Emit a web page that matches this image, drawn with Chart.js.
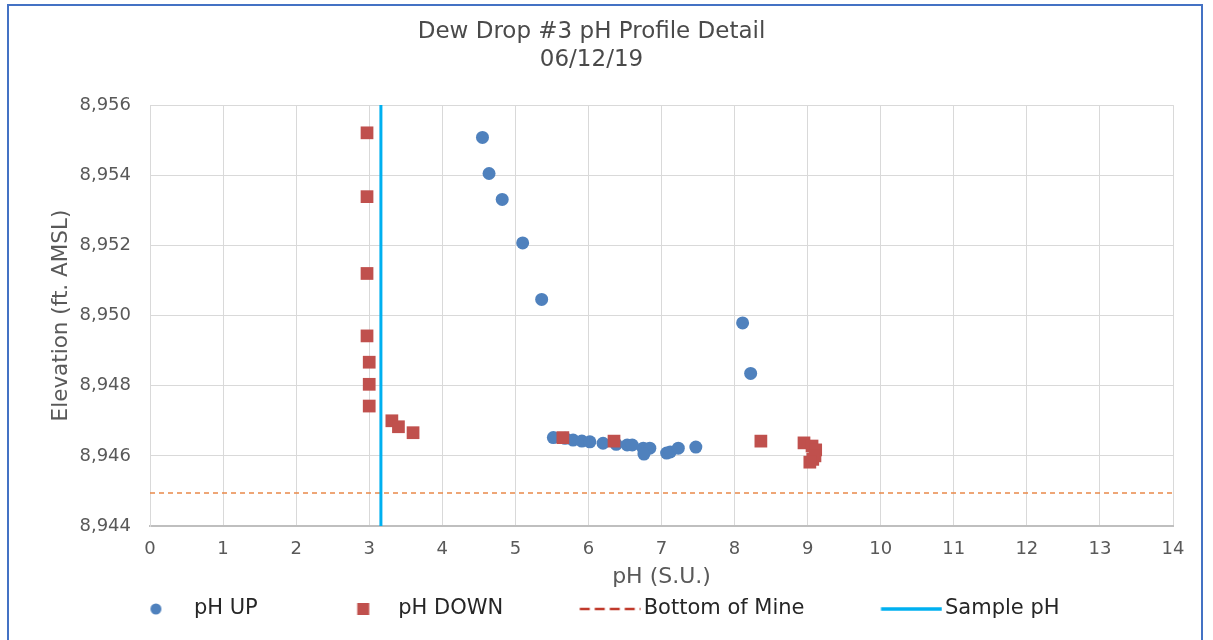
<!DOCTYPE html>
<html>
<head>
<meta charset="utf-8">
<script src="https://cdn.jsdelivr.net/npm/chart.js@4.4.1/dist/chart.umd.min.js"></script>
<style>
  html, body { margin: 0; padding: 0; background: #fff; }
</style>
</head>
<body>
<canvas id="phChart" width="1213" height="640"></canvas>
<script>
// pH UP profile (circles)
const upPh = [4.55, 4.64, 4.82, 5.10, 5.36, 8.11, 8.22,
  5.52, 5.68, 5.79, 5.91, 6.02, 6.20, 6.38, 6.53, 6.60, 6.75, 6.84, 6.76, 7.07, 7.12, 7.23, 7.47];
const upElev = [8955.08, 8954.05, 8953.31, 8952.07, 8950.46, 8949.79, 8948.35,
  8946.52, 8946.50, 8946.45, 8946.42, 8946.40, 8946.36, 8946.33, 8946.31, 8946.31, 8946.22, 8946.22, 8946.05, 8946.08, 8946.11, 8946.22, 8946.25];

// pH DOWN profile (squares)
const downPh = [2.97, 2.97, 2.97, 2.97, 3.00, 3.00, 3.00, 3.31, 3.40, 3.60,
  5.65, 6.35, 8.36, 8.95, 9.06, 9.11, 9.10, 9.07, 9.03];
const downElev = [8955.21, 8953.39, 8951.20, 8949.42, 8948.67, 8948.04, 8947.42, 8947.00, 8946.83, 8946.66,
  8946.52, 8946.42, 8946.42, 8946.37, 8946.28, 8946.17, 8946.00, 8945.90, 8945.82];

// reference lines
const mineX = [0, 14];
const mineElev = [8944.94, 8944.94];
const sampleX = [3.16, 3.16];
const sampleElev = [8944, 8956];

const seriesNames = ['pH UP', 'pH DOWN', 'Bottom of Mine', 'Sample pH'];
const titleLines = ['Dew Drop #3 pH Profile Detail', '06/12/19'];

const toPoints = (xs, ys) => xs.map((x, i) => ({ x: x, y: ys[i] }));

const blue = '#4F81BD';
const red = '#C0504D';
const cyan = '#00B0F0';
const orange = '#E9894A';

Chart.defaults.font.family = 'DejaVu Sans';
Chart.defaults.color = '#595959';

// legend markers drawn on small canvases
function legendIcon(draw) {
  const c = document.createElement('canvas');
  c.width = 136;
  c.height = 24;
  const g = c.getContext('2d');
  draw(g);
  return c;
}
const icons = [
  legendIcon(g => { g.fillStyle = blue; g.beginPath(); g.arc(100.5, 12, 5.5, 0, Math.PI * 2); g.fill(); }),
  legendIcon(g => { g.fillStyle = red; g.fillRect(97.5, 6, 12, 12); }),
  legendIcon(g => { g.strokeStyle = '#C0392B'; g.lineWidth = 2.5; g.setLineDash([10, 5]);
    g.beginPath(); g.moveTo(74.5, 12); g.lineTo(135.5, 12); g.stroke(); }),
  legendIcon(g => { g.strokeStyle = cyan; g.lineWidth = 3.5;
    g.beginPath(); g.moveTo(74.5, 12); g.lineTo(135.5, 12); g.stroke(); })
];

const framePlugin = {
  id: 'frame',
  beforeDraw(chart) {
    const ctx = chart.ctx;
    ctx.save();
    ctx.fillStyle = '#fff';
    ctx.fillRect(0, 0, chart.width, chart.height);
    ctx.strokeStyle = '#4472C4';
    ctx.lineWidth = 2;
    ctx.strokeRect(8, 5, 1194, 650);
    ctx.restore();
  }
};

const ctx = document.getElementById('phChart');
const phChart = new Chart(ctx, {
  type: 'scatter',
  data: {
    datasets: [
      {
        label: seriesNames[0],
        data: toPoints(upPh, upElev),
        pointStyle: 'circle',
        pointRadius: 6.5,
        backgroundColor: blue,
        borderColor: blue,
        borderWidth: 0,
        order: 3
      },
      {
        label: seriesNames[1],
        data: toPoints(downPh, downElev),
        pointStyle: 'rect',
        pointRadius: 9,
        backgroundColor: red,
        borderColor: red,
        borderWidth: 0,
        order: 2
      },
      {
        label: seriesNames[2],
        data: toPoints(mineX, mineElev),
        showLine: true,
        pointRadius: 0,
        borderColor: orange,
        borderWidth: 1.5,
        borderDash: [5, 4],
        order: 1
      },
      {
        label: seriesNames[3],
        data: toPoints(sampleX, sampleElev),
        showLine: true,
        pointRadius: 0,
        borderColor: cyan,
        borderWidth: 3,
        order: 0
      }
    ]
  },
  options: {
    responsive: false,
    animation: false,
    devicePixelRatio: 1,
    layout: { padding: { top: 5, left: 10, right: 40, bottom: 10.5 } },
    plugins: {
      tooltip: { enabled: false },
      title: {
        display: true,
        text: titleLines,
        color: '#4a4a4a',
        font: { size: 23, weight: 'normal', lineHeight: 1.22 },
        padding: { top: 13, bottom: 31 }
      },
      legend: {
        position: 'bottom',
        labels: {
          usePointStyle: true,
          pointStyleWidth: 120,
          padding: 10,
          color: '#262626',
          font: { size: 21 },
          generateLabels: () => seriesNames.map((name, i) => ({
            // trailing spaces on the last entry keep the row centred like the original
            text: i === 3 ? name + '         ' : name,
            pointStyle: icons[i],
            fillStyle: 'rgba(0,0,0,0)',
            strokeStyle: 'rgba(0,0,0,0)',
            lineWidth: 0,
            hidden: false,
            datasetIndex: i,
            fontColor: '#262626'
          }))
        },
        onClick: null
      }
    },
    scales: {
      x: {
        type: 'linear',
        min: 0,
        max: 14,
        ticks: { stepSize: 1, padding: 13, font: { size: 18 }, color: '#595959' },
        grid: { color: '#d9d9d9', drawTicks: false },
        border: { color: '#bfbfbf', width: 2 },
        title: {
          display: true,
          text: 'pH (S.U.)',
          color: '#595959',
          font: { size: 22, lineHeight: 1 },
          padding: { top: 0, bottom: 0 }
        },
        afterFit(scale) { scale.height = 62.5; }
      },
      y: {
        type: 'linear',
        min: 8944,
        max: 8956,
        ticks: {
          stepSize: 2,
          padding: 19,
          font: { size: 18 },
          color: '#595959',
          callback: v => v.toLocaleString('en-US')
        },
        grid: { color: '#d9d9d9', drawTicks: false },
        border: { color: '#d9d9d9', width: 1 },
        title: {
          display: true,
          text: 'Elevation (ft. AMSL)',
          color: '#595959',
          font: { size: 21.5, lineHeight: 1.2 },
          padding: { top: 39, bottom: 0 }
        },
        afterFit(scale) { scale.width = 140; }
      }
    }
  },
  plugins: [framePlugin]
});
</script>
</body>
</html>
